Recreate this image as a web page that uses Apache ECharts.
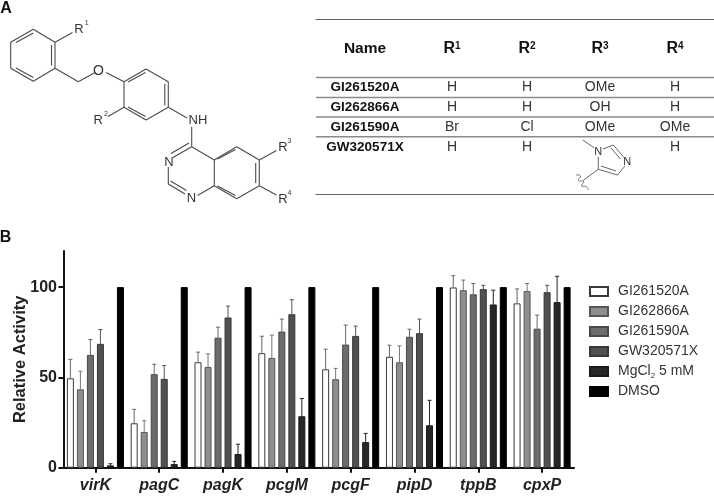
<!DOCTYPE html>
<html>
<head>
<meta charset="utf-8">
<style>
  html, body { margin: 0; padding: 0; background: #fff; }
  #main { width: 714px; height: 496px; }
</style>
<script src="https://cdn.jsdelivr.net/npm/echarts@6/dist/echarts.min.js"></script>
</head>
<body>
<div id="main"></div>
<script>
// panel B values
var genes = ['virK', 'pagC', 'pagK', 'pcgM', 'pcgF', 'pipD', 'tppB', 'cpxP'];
var seriesNames = ['GI261520A', 'GI262866A', 'GI261590A', 'GW320571X', 'MgCl{sub|2} 5 mM', 'DMSO'];
var yTicks = [0, 50, 100];

var gi261520a = [49.5, 24.6, 58.4, 63.4, 54.5, 61.4, 99.8, 91];
var gi262866a = [43.4, 19.8, 55.8, 60.8, 49, 58.4, 98.3, 97.8];
var gi261590a = [62.5, 51.8, 72, 75.4, 68.2, 72.5, 96, 77];
var gw320571x = [68.6, 49.2, 83.2, 85, 73, 74.5, 98.9, 97.2];
var mgcl2 = [1.3, 2, 7.6, 28.5, 14.2, 23.5, 90.4, 91.7];
var dmso = [100, 100, 100, 100, 100, 100, 100, 100];

// top end of the error bars
var gi261520aTop = [60, 32.3, 64, 72.8, 65.6, 67.8, 106.3, 99];
var gi262866aTop = [53.4, 26, 63, 73.4, 55, 67.5, 103.9, 102];
var gi261590aTop = [71, 57.3, 77.8, 82.3, 79, 76.7, 102, 84.5];
var gw320571xTop = [76.5, 56.6, 89.5, 93, 78.4, 82.3, 101, 101];
var mgcl2Top = [2.2, 3.5, 13, 38.3, 19, 37.3, 98.3, 106];

// panel A table
var tableHead = ['Name', 'R{sup|1}', 'R{sup|2}', 'R{sup|3}', 'R{sup|4}'];
var tableNames = ['GI261520A', 'GI262866A', 'GI261590A', 'GW320571X'];
var tableR1 = ['H', 'H', 'Br', 'H'];
var tableR2 = ['H', 'H', 'Cl', 'H'];
var tableR3 = ['OMe', 'OH', 'OMe', ''];
var tableR4 = ['H', 'H', 'OMe', 'H'];

var FONT = '"Liberation Sans", Arial, sans-serif';
var fills = ['#ffffff', '#8e8e8e', '#6c6c6c', '#505050', '#272727', '#000000'];
var strokes = ['#3a3a3a', '#565656', '#484848', '#383838', '#1a1a1a', '#000000'];
var whiskers = ['#666666', '#777777', '#666666', '#555555', '#222222'];

var BAR_W = 7;
var BAR_GAP = '43%';

var allValues = [gi261520a, gi262866a, gi261590a, gw320571x, mgcl2, dmso];
var allTops = [gi261520aTop, gi262866aTop, gi261590aTop, gw320571xTop, mgcl2Top];

var series = [];
seriesNames.forEach(function (name, i) {
  series.push({
    name: name,
    type: 'bar',
    barWidth: BAR_W,
    barGap: BAR_GAP,
    data: allValues[i],
    itemStyle: { color: fills[i], borderColor: strokes[i], borderWidth: 1 },
    silent: true,
    animation: false
  });
});

var errRows = [];
allTops.forEach(function (tops, s) {
  tops.forEach(function (top, g) {
    errRows.push([g, top, s, allValues[s][g]]);
  });
});

series.push({
  name: 'err',
  type: 'custom',
  data: errRows,
  encode: { x: 0, y: 1 },
  z: 3,
  silent: true,
  animation: false,
  renderItem: function (params, api) {
    var s = api.value(2);
    var lay = api.barLayout({ count: 6, barWidth: BAR_W, barGap: BAR_GAP })[s];
    var top = api.coord([api.value(0), api.value(1)]);
    var base = api.coord([api.value(0), api.value(3)]);
    var x = top[0] + lay.offsetCenter;
    var style = { stroke: whiskers[s], lineWidth: 1, fill: null };
    return {
      type: 'group',
      children: [
        { type: 'line', shape: { x1: x, y1: base[1], x2: x, y2: top[1] }, style: style },
        { type: 'line', shape: { x1: x - 2, y1: top[1], x2: x + 2, y2: top[1] }, style: style }
      ]
    };
  }
});

// panel A is plain drawing, no scale behind it
var INK = '#4a4a4a';
var graphics = [];

function seg(list, color, w) {
  list.forEach(function (p) {
    graphics.push({
      type: 'line',
      silent: true,
      shape: { x1: p[0], y1: p[1], x2: p[2], y2: p[3] },
      style: { stroke: color || INK, lineWidth: w || 1.1 }
    });
  });
}

function label(x, y, text, size, opts) {
  opts = opts || {};
  graphics.push({
    type: 'text',
    silent: true,
    x: x,
    y: y,
    style: {
      text: text,
      font: (opts.bold ? 'bold ' : '') + size + 'px ' + FONT,
      fill: opts.color || '#333',
      align: opts.align || 'center',
      verticalAlign: 'middle',
      rich: opts.rich
    }
  });
}

// molecule bonds
seg([
  // first ring
  [33.3, 29.3, 55, 42.3], [55, 42.3, 55, 68.3], [55, 68.3, 33.3, 81.3], [33.3, 81.3, 10.7, 68.3], [10.7, 68.3, 10.7, 42.3], [10.7, 42.3, 33.3, 29.3],
  [16, 42.5, 33.3, 33], [51.5, 45, 51.5, 65.5], [16, 68, 33.3, 77.5],
  [55, 42.3, 72.5, 32.5], [55, 68.3, 78.3, 81.7], [78.3, 81.7, 95, 72.5],
  // second ring
  [106, 72.5, 124, 81.7], [124, 81.7, 146, 69], [146, 69, 168.3, 81.7], [168.3, 81.7, 168.3, 107.3], [168.3, 107.3, 146, 120], [146, 120, 124, 107.3], [124, 107.3, 124, 81.7],
  [128, 82, 145.5, 72.5], [164.8, 84, 164.8, 105.5], [128, 107, 145.5, 116.5],
  [124, 107.3, 108, 116.5], [168.3, 107.3, 187, 118],
  [191.7, 127, 191.7, 146.7],
  // quinazoline
  [191.7, 146.7, 173, 157.5], [189, 143, 171, 153.5], [191.7, 146.7, 214.3, 160], [214.3, 160, 236.7, 146.7], [236.7, 146.7, 259.3, 160], [259.3, 160, 259.3, 185.7], [259.3, 185.7, 236.7, 198.7], [236.7, 198.7, 214.3, 185.7], [214.3, 185.7, 214.3, 160],
  [217.5, 159, 235.5, 149.5], [255.7, 163, 255.7, 183], [217.5, 186, 235.5, 195.5],
  [214.3, 185.7, 197.5, 195.5], [168.3, 167, 168.3, 184], [168.3, 184, 185, 194], [170.5, 181, 186.5, 190.5],
  [259.3, 160, 276.5, 150.5], [259.3, 185.7, 276.5, 195]
]);

label(79, 29.5, 'R', 13);
label(86.7, 23.5, '1', 7);
label(98.5, 71, 'O', 14);
label(98.3, 120, 'R', 13);
label(106, 114, '2', 7);
label(198, 120, 'NH', 13);
label(169, 162, 'N', 13);
label(191.5, 198.5, 'N', 13);
label(283, 147, 'R', 13);
label(289.5, 141, '3', 7);
label(283, 199.5, 'R', 13);
label(289.5, 193.5, '4', 7);

label(6, 9, 'A', 16, { bold: true, color: '#111' });
label(5.5, 238, 'B', 16, { bold: true, color: '#111' });

// table rules
seg([[315.5, 19.5, 714, 19.5], [315.5, 194.5, 714, 194.5]], '#666', 1);
seg([[316, 77.5, 714, 77.5], [316, 97.5, 714, 97.5], [316, 117, 714, 117], [316, 136.7, 714, 136.7]], '#8a8a8a', 1.4);

var colX = [365, 452, 527, 600, 675];
var rowY = [87.5, 107, 127, 147];
var headRich = { sup: { fontSize: 10, fontWeight: 'bold', fontFamily: FONT, fill: '#111', padding: [0, 0, 6, 0] } };

tableHead.forEach(function (t, i) {
  label(colX[i], 49, t, i === 0 ? 15.5 : 16, { bold: true, color: '#111', rich: headRich });
});
tableNames.forEach(function (t, i) {
  label(colX[0], rowY[i], t, 13.5, { bold: true, color: '#111' });
  label(colX[1], rowY[i], tableR1[i], 14);
  label(colX[2], rowY[i], tableR2[i], 14);
  label(colX[3], rowY[i], tableR3[i], 14);
  label(colX[4], rowY[i], tableR4[i], 14);
});

// imidazole in the R3 cell
seg([
  [582.7, 140, 594, 147.7], [603, 149, 613.3, 145], [613.3, 145, 624, 157.5], [611, 148, 620.5, 159],
  [625, 166, 617.3, 175], [617.3, 175, 598.3, 169.3], [616, 171, 601, 166], [598.3, 169.3, 598.3, 157],
  [598.3, 169.3, 583, 180.5]
], '#555', 0.9);
graphics.push({
  type: 'polyline',
  silent: true,
  shape: { points: [[576, 175], [580.5, 176], [578.5, 180.5], [583.5, 181.5], [581.5, 186], [586, 186.5], [588.5, 190]], smooth: 0.6 },
  style: { stroke: '#666', lineWidth: 0.9, fill: null }
});
label(598.3, 152, 'N', 11);
label(627.3, 161.5, 'N', 11);

var chart = echarts.init(document.getElementById('main'), null, { renderer: 'canvas' });

chart.setOption({
  animation: false,
  backgroundColor: '#fff',
  textStyle: { fontFamily: FONT },
  grid: { left: 63.5, top: 251, width: 510.5, height: 216.7, containLabel: false, outerBoundsMode: 'none' },
  legend: {
    orient: 'vertical',
    left: 589,
    top: 283.5,
    padding: 0,
    itemWidth: 18,
    itemHeight: 9,
    itemGap: 4,
    icon: 'rect',
    selectedMode: false,
    data: seriesNames,
    textStyle: {
      fontFamily: FONT,
      fontSize: 14,
      color: '#333',
      lineHeight: 16,
      padding: [0, 0, 0, 5],
      rich: { sub: { fontSize: 8, fontFamily: FONT, color: '#333', verticalAlign: 'bottom', padding: [5, 0, 0, 0] } }
    }
  },
  xAxis: {
    type: 'category',
    data: genes,
    axisLine: { lineStyle: { color: '#111', width: 2 } },
    axisTick: { show: true, alignWithLabel: true, length: 5, lineStyle: { color: '#111', width: 2 } },
    axisLabel: { fontFamily: FONT, fontSize: 16, fontWeight: 'bold', fontStyle: 'italic', color: '#222', margin: 10 }
  },
  yAxis: {
    type: 'value',
    min: 0,
    max: 120,
    name: 'Relative Activity',
    nameLocation: 'middle',
    nameGap: 35,
    nameMoveOverlap: false,
    nameTextStyle: { fontFamily: FONT, fontSize: 16.5, fontWeight: 'bold', color: '#222' },
    splitLine: { show: false },
    axisLine: { show: true, lineStyle: { color: '#111', width: 2 } },
    axisTick: { show: true, length: 5, customValues: yTicks, lineStyle: { color: '#111', width: 2 } },
    axisLabel: { customValues: yTicks, fontFamily: FONT, fontSize: 16, fontWeight: 'bold', color: '#222', margin: 6.5 }
  },
  series: series,
  graphic: { elements: graphics }
});
</script>
</body>
</html>
